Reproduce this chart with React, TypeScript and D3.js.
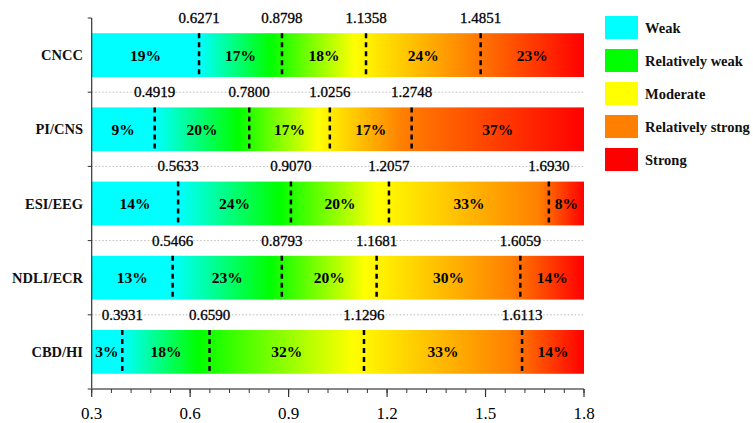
import * as d3 from "d3";

const categories = ["CNCC", "PI/CNS", "ESI/EEG", "NDLI/ECR", "CBD/HI"];
const thresholds = [
  [0.6271, 0.8798, 1.1358, 1.4851],
  [0.4919, 0.78, 1.0256, 1.2748],
  [0.5633, 0.907, 1.2057, 1.693],
  [0.5466, 0.8793, 1.1681, 1.6059],
  [0.3931, 0.659, 1.1296, 1.6113],
];
const percents = [
  [19, 17, 18, 24, 23],
  [9, 20, 17, 17, 37],
  [14, 24, 20, 33, 8],
  [13, 23, 20, 30, 14],
  [3, 18, 32, 33, 14],
];
const thresholdLabels = [
  ["0.6271", "0.8798", "1.1358", "1.4851"],
  ["0.4919", "0.7800", "1.0256", "1.2748"],
  ["0.5633", "0.9070", "1.2057", "1.6930"],
  ["0.5466", "0.8793", "1.1681", "1.6059"],
  ["0.3931", "0.6590", "1.1296", "1.6113"],
];
const legendLabels = ["Weak", "Relatively weak", "Moderate", "Relatively strong", "Strong"];
const levelColors = ["#00ffff", "#00ff00", "#ffff00", "#ff8000", "#ff0000"];
const xMin = 0.3;
const xMax = 1.8;
const xTicks = [0.3, 0.6, 0.9, 1.2, 1.5, 1.8];

const W = 753;
const H = 423;
const serif = "'Liberation Serif', 'Times New Roman', serif";

export default function App() {
  const x = d3.scaleLinear().domain([xMin, xMax]).range([91.7, 584]);
  const y = d3.scaleBand<string>().domain(categories).range([18, 389]).paddingInner(0.41).paddingOuter(0.205);
  const step = y.step();
  const top = 18;
  const bottom = 389;
  const minorTicks = d3.range(0, 26).map((i) => xMin + i * 0.06);

  return (
    <svg width={W} height={H} style={{ position: "absolute", left: 0, top: 0, background: "#fff" }}>
      <defs>
        {categories.map((c, i) => {
          const t = thresholds[i];
          const off = (v: number) => (v - xMin) / (xMax - xMin);
          const stops = [
            [0, levelColors[0]],
            [off(t[0]), levelColors[0]],
            [off(t[1] - 0.035), levelColors[1]],
            [off(t[2] - 0.035), levelColors[2]],
            [off(t[3] - 0.03), levelColors[3]],
            [1, levelColors[4]],
          ];
          return (
            <linearGradient key={c} id={`grad${i}`} gradientUnits="userSpaceOnUse" x1={x(xMin)} x2={x(xMax)} y1={0} y2={0}>
              {stops.map((s, j) => (
                <stop key={j} offset={s[0] as number} stopColor={s[1] as string} />
              ))}
            </linearGradient>
          );
        })}
      </defs>

      {/* dotted separators */}
      {d3.range(1, categories.length).map((k) => (
        <line key={k} x1={x(xMin)} x2={x(xMax)} y1={top + k * step} y2={top + k * step}
          stroke="#bbb" strokeWidth={1} strokeDasharray="1.5,2" />
      ))}

      {/* bars */}
      {categories.map((c, i) => {
        const y0 = y(c)!;
        const bw = y.bandwidth();
        const bounds = [xMin, ...thresholds[i], xMax];
        return (
          <g key={c}>
            <rect x={x(xMin)} y={y0} width={x(xMax) - x(xMin)} height={bw} fill={`url(#grad${i})`} />
            {thresholds[i].map((v, j) => (
              <line key={j} x1={x(v)} x2={x(v)} y1={y0} y2={y0 + bw} stroke="#000" strokeWidth={2.5} strokeDasharray="5,4" />
            ))}
            {thresholds[i].map((v, j) => (
              <text key={"t" + j} x={x(v)} y={y0 - step * 0.205 + 5} textAnchor="middle"
                fontFamily={serif} fontSize={15} fill="#000" stroke="#000" strokeWidth={0.3}>{thresholdLabels[i][j]}</text>
            ))}
            {percents[i].map((p, j) => (
              <text key={"p" + j} x={(x(bounds[j]) + x(bounds[j + 1])) / 2} y={y0 + bw / 2 + 5.5} textAnchor="middle"
                fontFamily={serif} fontWeight="bold" fontSize={15.5} fill="#000">{p}%</text>
            ))}
            <text x={83} y={y0 + bw / 2 + 5} textAnchor="end" fontFamily={serif} fontWeight="bold" fontSize={14.5} fill="#111">{c}</text>
          </g>
        );
      })}

      {/* left axis */}
      <line x1={x(xMin)} x2={x(xMin)} y1={top} y2={bottom} stroke="#333" strokeWidth={1.2} />
      {d3.range(0, categories.length + 1).map((k) => (
        <line key={k} x1={x(xMin) - 4} x2={x(xMin)} y1={top + k * step} y2={top + k * step} stroke="#333" strokeWidth={1} />
      ))}

      {/* bottom axis */}
      <line x1={x(xMin)} x2={x(xMax)} y1={bottom} y2={bottom} stroke="#888" strokeWidth={2} />
      {minorTicks.map((v, k) => (
        <line key={k} x1={x(v)} x2={x(v)} y1={bottom} y2={bottom + 4} stroke="#333" strokeWidth={1} />
      ))}
      {xTicks.map((v) => (
        <g key={v}>
          <line x1={x(v)} x2={x(v)} y1={bottom} y2={bottom + 8} stroke="#333" strokeWidth={1.2} />
          <text x={x(v)} y={419} textAnchor="middle" fontFamily={serif} fontSize={17} fill="#000">{v.toFixed(1)}</text>
        </g>
      ))}

      {/* legend */}
      {legendLabels.map((l, i) => (
        <g key={l}>
          <rect x={605} y={16 + i * 33} width={33} height={23} fill={levelColors[i]} />
          <text x={645} y={16 + i * 33 + 16.5} fontFamily={serif} fontWeight="bold" fontSize={14.5} fill="#111">{l}</text>
        </g>
      ))}
    </svg>
  );
}
